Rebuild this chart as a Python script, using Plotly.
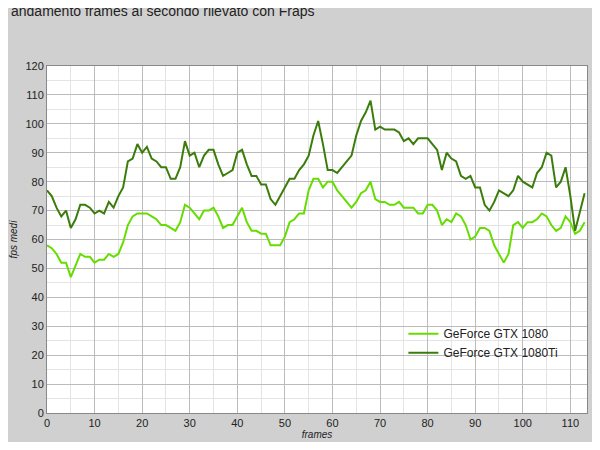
import plotly.graph_objects as go

gtx1080 = [58, 57, 55, 52, 52, 47, 51, 55, 54, 54, 52, 53, 53, 55, 54, 55, 59, 65, 68, 69,
           69, 69, 68, 67, 65, 65, 64, 63, 66, 72, 71, 69, 67, 70, 70, 71, 68, 64, 65, 65,
           68, 71, 66, 63, 63, 62, 62, 58, 58, 58, 61, 66, 67, 69, 69, 77, 81, 81, 78, 80,
           80, 77, 75, 73, 71, 73, 76, 77, 80, 74, 73, 73, 72, 72, 73, 71, 71, 71, 69, 69,
           72, 72, 70, 65, 67, 66, 69, 68, 65, 60, 61, 64, 64, 63, 58, 55, 52, 55, 65, 66,
           64, 66, 66, 67, 69, 68, 65, 63, 64, 68, 66, 62, 63, 66]
gtx1080ti = [77, 75, 71, 68, 70, 64, 67, 72, 72, 71, 69, 70, 69, 73, 71, 75, 78, 87, 88, 93,
             90, 92, 88, 87, 85, 85, 81, 81, 85, 94, 89, 90, 85, 89, 91, 91, 86, 82, 83, 84,
             90, 91, 86, 82, 82, 79, 79, 74, 72, 75, 78, 81, 81, 84, 86, 89, 96, 101, 93, 84,
             84, 83, 85, 87, 89, 96, 101, 104, 108, 98, 99, 98, 98, 98, 97, 94, 95, 93, 95, 95,
             95, 93, 91, 84, 90, 88, 87, 82, 81, 82, 78, 78, 72, 70, 73, 77, 76, 75, 77, 82,
             80, 79, 78, 83, 85, 90, 89, 78, 80, 85, 75, 63, 70, 76]
frames = list(range(len(gtx1080)))

fig = go.Figure()
fig.add_trace(go.Scatter(x=frames, y=gtx1080, mode="lines", name="GeForce GTX 1080",
                         line=dict(color="#66dd00", width=2)))
fig.add_trace(go.Scatter(x=frames, y=gtx1080ti, mode="lines", name="GeForce GTX 1080Ti",
                         line=dict(color="#3a7d0a", width=2)))

axis = dict(showline=True, linecolor="#888", mirror=True, gridcolor="#bbbbbb",
            zeroline=False, ticks="", tickfont=dict(size=11, color="#222"),
            minor=dict(showgrid=True, gridcolor="#e4e4e4"))
fig.update_xaxes(axis, range=[0, 113.5], dtick=10, minor_dtick=5,
                 title=dict(text="<i>frames</i>", font=dict(size=10), standoff=2))
fig.update_yaxes(axis, range=[0, 120], dtick=10, minor_dtick=5,
                 title=dict(text="<i>fps medi</i>", font=dict(size=10), standoff=6))

fig.add_annotation(text="GTA V - 3840x2160 pixel", xref="paper", yref="paper", x=-0.07, y=1.19,
                   xanchor="left", yanchor="bottom", showarrow=False, font=dict(size=18, color="#222"))
fig.add_annotation(text="andamento frames al secondo rilevato con Fraps", xref="paper", yref="paper",
                   x=-0.07, y=1.13, xanchor="left", yanchor="bottom", showarrow=False,
                   font=dict(size=14, color="#222"))

fig.update_layout(
    width=584, height=434,
    font=dict(family="Arial, Liberation Sans, sans-serif", color="#222"),
    paper_bgcolor="#d0d0d0", plot_bgcolor="white",
    margin=dict(l=38, r=4, t=58, b=28),
    legend=dict(x=0.66, y=0.27, xanchor="left", yanchor="top", bgcolor="rgba(0,0,0,0)",
                font=dict(size=12)),
)
fig.write_html("out.html")
